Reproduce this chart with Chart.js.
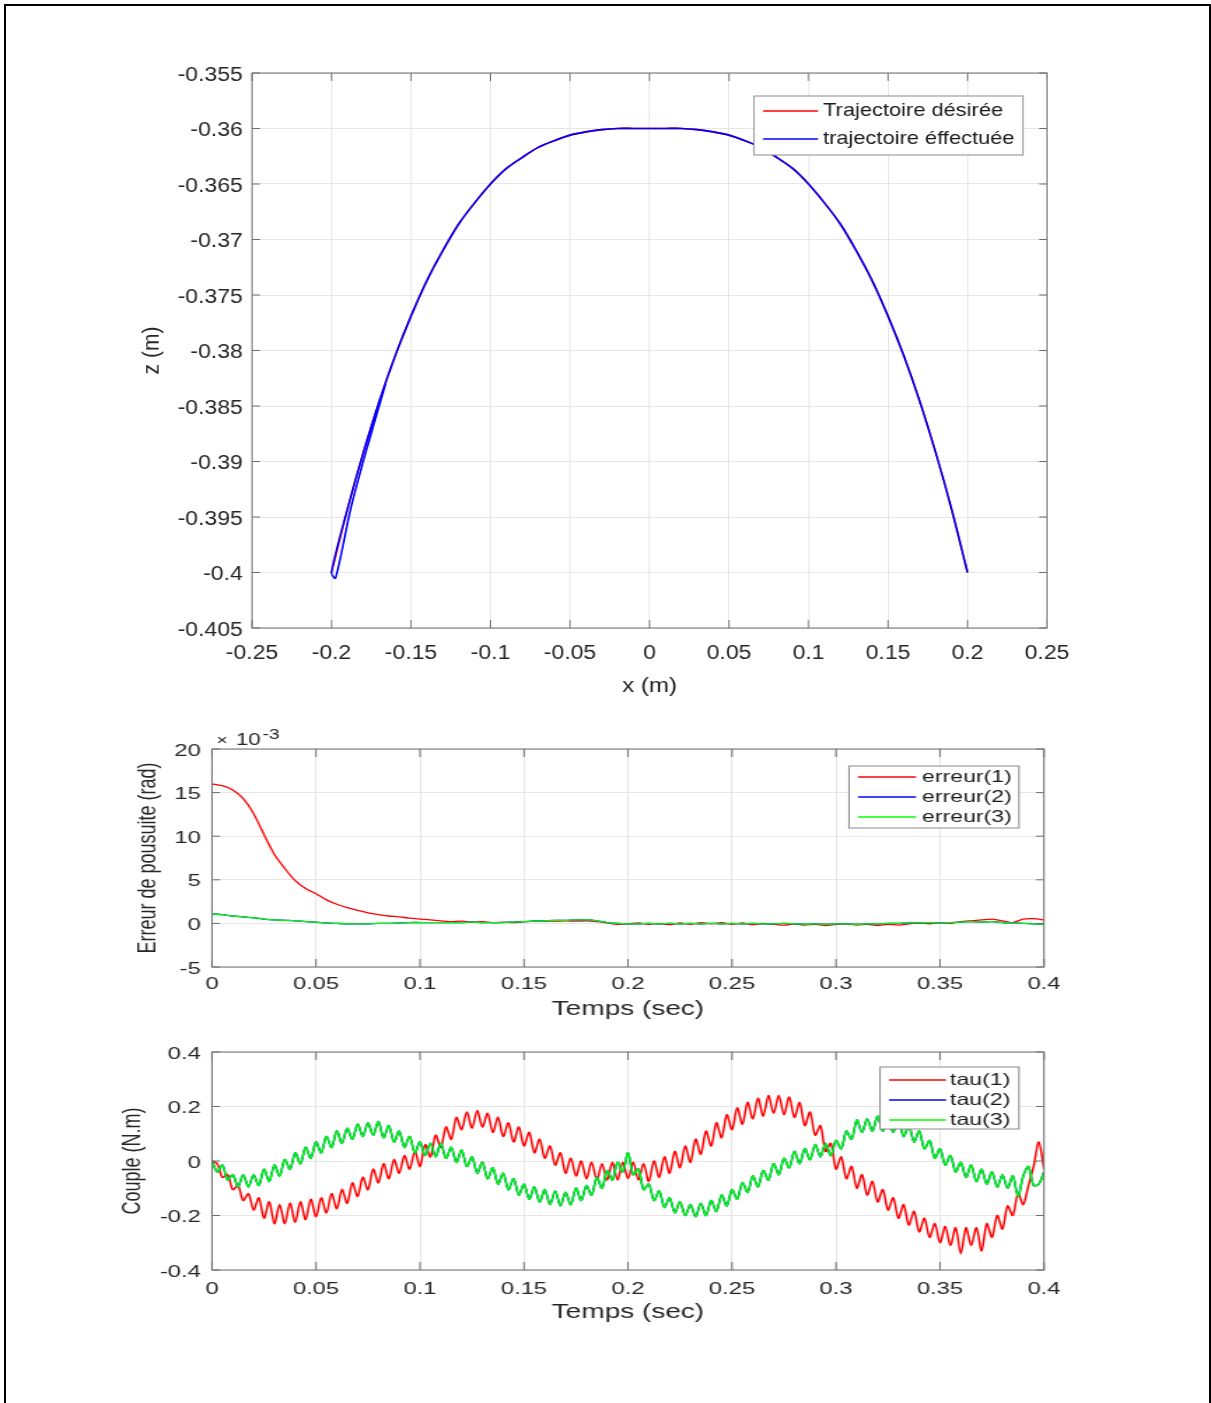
<!DOCTYPE html>
<html>
<head>
<meta charset="utf-8">
<script src="https://cdn.jsdelivr.net/npm/chart.js@4.4.0/dist/chart.umd.min.js"></script>
<style>
  html, body { margin: 0; padding: 0; background: #fff; }
  body { width: 1211px; height: 1403px; position: relative; overflow: hidden; }
  #frame { position: absolute; left: 4px; top: 4px; width: 1203px; height: 1420px; border: 2px solid #000; }
  canvas { position: absolute; left: 0; transform-origin: 0 0; }
</style>
</head>
<body>
<div id="frame"></div>
<canvas id="trajChart"></canvas>
<canvas id="errChart"></canvas>
<canvas id="tauChart"></canvas>
<script>
// ---- trajectory (metres) ----
const trajX = [-0.2, -0.19, -0.18, -0.17, -0.16, -0.15, -0.14, -0.13, -0.12, -0.11, -0.1,
  -0.09, -0.08, -0.07, -0.06, -0.05, -0.04, -0.03, -0.02, -0.01, 0,
  0.01, 0.02, 0.03, 0.04, 0.05, 0.06, 0.07, 0.08, 0.09, 0.1,
  0.11, 0.12, 0.13, 0.14, 0.15, 0.16, 0.17, 0.18, 0.19, 0.2];
const trajZ = [-0.4, -0.3943, -0.3892, -0.3846, -0.3805, -0.3769, -0.3737, -0.371, -0.3686, -0.3667, -0.365,
  -0.3636, -0.3626, -0.3617, -0.3611, -0.3606, -0.3603, -0.3601, -0.36, -0.36, -0.36,
  -0.36, -0.36, -0.3601, -0.3603, -0.3606, -0.3611, -0.3617, -0.3626, -0.3636, -0.365,
  -0.3667, -0.3686, -0.371, -0.3737, -0.3769, -0.3805, -0.3846, -0.3892, -0.3943, -0.4];
// second strand at the start of the tracked path
const startX = [-0.166, -0.1785, -0.188, -0.1975];
const startZ = [-0.383, -0.3892, -0.3943, -0.4005];
const trajXTicks = [-0.25, -0.2, -0.15, -0.1, -0.05, 0, 0.05, 0.1, 0.15, 0.2, 0.25];
const trajZTicks = [-0.405, -0.4, -0.395, -0.39, -0.385, -0.38, -0.375, -0.37, -0.365, -0.36, -0.355];

// ---- tracking errors (x 1e-3 rad), one sample every 5 ms ----
const errStep = 0.005;
const err1 = [16.0, 15.8, 15.3, 14.3, 12.6, 10.2, 7.9, 6.3, 4.9, 4.0,
  3.4, 2.7, 2.2, 1.8, 1.5, 1.2, 1.0, 0.85, 0.75, 0.6,
  0.5, 0.4, 0.3, 0.2, 0.25, 0.15, 0.2, 0.1, 0.15, 0.1,
  0.2, 0.25, 0.3, 0.25, 0.3, 0.25, 0.3, 0.2, 0.05, -0.1,
  -0.05, 0.05, -0.1, 0.0, -0.15, 0.05, -0.1, 0.1, -0.05, 0.1,
  -0.1, 0.05, -0.15, 0.0, -0.1, -0.2, -0.05, -0.2, -0.1, -0.25,
  -0.1, -0.05, -0.2, -0.1, -0.25, -0.1, -0.2, -0.05, 0.05, -0.05,
  0.1, 0.0, 0.2, 0.3, 0.4, 0.5, 0.3, 0.1, 0.5, 0.55, 0.4];
const err3 = [1.1, 1.0, 0.85, 0.75, 0.65, 0.5, 0.4, 0.35, 0.3, 0.2,
  0.15, 0.05, 0.0, -0.05, -0.05, -0.05, 0.0, 0.0, 0.05, 0.1,
  0.1, 0.1, 0.1, 0.1, 0.1, 0.15, 0.1, 0.1, 0.1, 0.15,
  0.2, 0.25, 0.3, 0.35, 0.35, 0.4, 0.4, 0.3, 0.1, 0.0,
  -0.05, -0.05, 0.0, -0.05, 0.0, -0.05, 0.0, -0.05, 0.0, -0.05,
  0.0, -0.05, 0.0, -0.05, -0.05, 0.0, -0.05, -0.1, -0.05, -0.1,
  -0.05, -0.05, -0.1, -0.05, -0.05, 0.0, 0.0, 0.05, 0.05, 0.1,
  0.05, 0.1, 0.15, 0.2, 0.15, 0.2, 0.1, 0.05, 0.0, -0.05, -0.1];
const err2 = err3; // hidden under erreur(3)
const errYTicks = [-5, 0, 5, 10, 15, 20];
const timeTicks = [0, 0.05, 0.1, 0.15, 0.2, 0.25, 0.3, 0.35, 0.4];

// ---- joint torques (N.m), one sample every 2.5 ms ----
const tauStep = 0.0025;
const tau1 = [0.00, -0.01, -0.06, -0.05, -0.105, -0.09, -0.145, -0.12, -0.18,
  -0.135, -0.21, -0.15, -0.23, -0.16, -0.23, -0.155, -0.225,
  -0.15, -0.215, -0.14, -0.205, -0.135, -0.19, -0.12, -0.175,
  -0.105, -0.155, -0.08, -0.13, -0.06, -0.105, -0.03, -0.08,
  -0.01, -0.065, 0.005, -0.045, 0.02, -0.03, 0.035, -0.02,
  0.06, 0.015, 0.095, 0.05, 0.125, 0.08, 0.16, 0.115,
  0.18, 0.12, 0.185, 0.125, 0.175, 0.105, 0.16, 0.09,
  0.14, 0.07, 0.125, 0.055, 0.105, 0.03, 0.08, 0.01,
  0.055, -0.015, 0.03, -0.045, 0.01, -0.055, 0.0, -0.065,
  -0.005, -0.07, -0.01, -0.07, -0.005, -0.07, -0.005, -0.065,
  -0.005, -0.07, -0.01, -0.075, 0.0, -0.06, 0.015, -0.045,
  0.035, -0.025, 0.055, -0.005, 0.08, 0.025, 0.11, 0.055,
  0.14, 0.085, 0.17, 0.115, 0.195, 0.135, 0.215, 0.155,
  0.23, 0.165, 0.24, 0.175, 0.24, 0.17, 0.235, 0.16,
  0.215, 0.13, 0.18, 0.095, 0.13, 0.035, 0.065, -0.03,
  0.015, -0.065, -0.02, -0.1, -0.05, -0.125, -0.075, -0.15,
  -0.105, -0.18, -0.135, -0.21, -0.16, -0.235, -0.185, -0.26,
  -0.21, -0.28, -0.23, -0.3, -0.24, -0.31, -0.245, -0.34,
  -0.245, -0.31, -0.245, -0.33, -0.23, -0.28, -0.2, -0.25,
  -0.165, -0.2, -0.12, -0.16, -0.09, -0.02, 0.07, -0.03];
const tau3 = [0.0, -0.04, -0.015, -0.07, -0.05, -0.095, -0.05, -0.095, -0.05,
  -0.09, -0.03, -0.075, -0.015, -0.055, 0.005, -0.03, 0.03,
  -0.01, 0.05, 0.01, 0.07, 0.03, 0.09, 0.05, 0.11,
  0.065, 0.12, 0.08, 0.135, 0.09, 0.14, 0.095, 0.145,
  0.085, 0.13, 0.07, 0.11, 0.05, 0.09, 0.03, 0.07,
  0.02, 0.065, 0.015, 0.065, 0.01, 0.05, -0.005, 0.04,
  -0.02, 0.015, -0.045, -0.005, -0.065, -0.025, -0.085, -0.045,
  -0.105, -0.065, -0.125, -0.085, -0.14, -0.095, -0.15, -0.105,
  -0.16, -0.11, -0.165, -0.115, -0.16, -0.1, -0.145, -0.09,
  -0.125, -0.06, -0.1, -0.035, -0.07, -0.005, -0.04, 0.03,
  -0.05, -0.03, -0.105, -0.085, -0.145, -0.11, -0.17, -0.135,
  -0.19, -0.15, -0.2, -0.16, -0.205, -0.155, -0.2, -0.145,
  -0.185, -0.125, -0.165, -0.105, -0.14, -0.08, -0.115, -0.055,
  -0.095, -0.035, -0.07, -0.01, -0.05, 0.01, -0.025, 0.035,
  -0.01, 0.045, 0.005, 0.06, 0.015, 0.065, 0.02, 0.075,
  0.045, 0.11, 0.08, 0.15, 0.105, 0.155, 0.11, 0.165,
  0.11, 0.155, 0.105, 0.15, 0.09, 0.13, 0.07, 0.11,
  0.045, 0.075, 0.01, 0.045, -0.015, 0.02, -0.04, -0.005,
  -0.06, -0.015, -0.075, -0.03, -0.085, -0.04, -0.095, -0.05,
  -0.1, -0.055, -0.13, -0.055, -0.02, -0.09, -0.085, -0.04];
const tau2 = tau3; // hidden under tau(3)
const tauYTicks = [-0.4, -0.2, 0, 0.2, 0.4];

const RED = '#ff0000', BLUE = '#0000ff', GREEN = '#00ff00';
const TXT = '#262626', GRID = '#e6e6e6', AXIS = '#6e6e6e';
const FONT = "'Liberation Sans', Arial, Helvetica, sans-serif";
const PAGE_W = 1211;

Chart.defaults.font.family = FONT;
Chart.defaults.color = TXT;

const fmt = v => String(+Number(v).toFixed(4));
const pts = (xs, ys) => xs.map((x, i) => ({ x, y: ys[i] }));
const timed = (ys, step) => ys.map((y, i) => ({ x: i * step, y }));

// MATLAB-like box, inward ticks, legend inside the axes, axis exponent
const matlabAxes = {
  id: 'matlabAxes',
  afterDraw(chart, args, o) {
    const { ctx, chartArea: a } = chart;
    const xs = chart.scales.x, ys = chart.scales.y;
    const s = o.stretch;
    ctx.save();
    ctx.strokeStyle = AXIS;
    ctx.lineWidth = 1;
    ctx.strokeRect(a.left, a.top, a.width, a.height);
    ctx.beginPath();
    xs.ticks.forEach(t => {
      const px = xs.getPixelForValue(t.value);
      ctx.moveTo(px, a.bottom); ctx.lineTo(px, a.bottom - 8);
      ctx.moveTo(px, a.top); ctx.lineTo(px, a.top + 8);
    });
    ys.ticks.forEach(t => {
      const py = ys.getPixelForValue(t.value);
      ctx.moveTo(a.left, py); ctx.lineTo(a.left + 8 / s, py);
      ctx.moveTo(a.right, py); ctx.lineTo(a.right - 8 / s, py);
    });
    ctx.stroke();

    const L = o.legend;
    const bx = a.right - (L.right + L.width) / s, by = a.top + L.top;
    ctx.fillStyle = '#fff';
    ctx.fillRect(bx, by, L.width / s, L.height);
    ctx.strokeStyle = '#8a8a8a';
    ctx.strokeRect(bx, by, L.width / s, L.height);
    ctx.font = L.size + 'px ' + FONT;
    ctx.textBaseline = 'middle';
    ctx.textAlign = 'left';
    chart.data.datasets.forEach((ds, i) => {
      const ry = by + L.first + i * L.step;
      ctx.strokeStyle = ds.borderColor;
      ctx.lineWidth = 1.3;
      ctx.beginPath();
      ctx.moveTo(bx + L.lineX / s, ry);
      ctx.lineTo(bx + (L.lineX + L.lineLen) / s, ry);
      ctx.stroke();
      ctx.fillStyle = '#1a1a1a';
      ctx.fillText(ds.label, bx + L.textX / s, ry);
    });

    if (o.exponent) {
      ctx.fillStyle = TXT;
      ctx.font = '14px ' + FONT;
      ctx.fillText('\u00d7', a.left + 3, a.top - 8);
      ctx.font = '16px ' + FONT;
      ctx.fillText('10', a.left + 17, a.top - 8);
      ctx.font = '14px ' + FONT;
      ctx.fillText(o.exponent, a.left + 36, a.top - 14);
    }
    ctx.restore();
  }
};

function place(id, box) {
  const cv = document.getElementById(id);
  const w = Math.round(PAGE_W / box.s);
  cv.width = w;
  cv.height = box.height;
  cv.style.width = w + 'px';
  cv.style.height = box.height + 'px';
  cv.style.top = box.top + 'px';
  cv.style.transform = 'scaleX(' + box.s + ')';
  return { cv, w };
}

function makeChart(id, box, spec) {
  const { cv, w } = place(id, box);
  return new Chart(cv, {
    type: 'line',
    data: { datasets: spec.datasets },
    options: {
      responsive: false,
      maintainAspectRatio: false,
      animation: false,
      events: [],
      layout: { padding: { left: 0, top: box.areaTop - box.top, right: w - box.right / box.s, bottom: 0 } },
      elements: { point: { radius: 0 }, line: { tension: spec.tension || 0 } },
      plugins: {
        legend: { display: false },
        tooltip: { enabled: false },
        matlabAxes: { stretch: box.s, legend: spec.legend, exponent: spec.exponent }
      },
      scales: {
        x: {
          type: 'linear',
          min: spec.xTicks[0],
          max: spec.xTicks[spec.xTicks.length - 1],
          afterBuildTicks: sc => { sc.ticks = spec.xTicks.map(v => ({ value: v })); },
          afterFit: sc => { sc.height = box.top + box.height - box.areaBottom; },
          grid: { color: GRID, drawTicks: false },
          border: { display: false },
          ticks: { padding: spec.xPad, autoSkip: false, maxRotation: 0, color: TXT, font: { size: spec.tick }, callback: fmt },
          title: { display: true, text: spec.xTitle, color: TXT, font: { size: spec.title }, padding: { top: 0, bottom: spec.xTitlePad } }
        },
        y: {
          type: 'linear',
          min: spec.yTicks[0],
          max: spec.yTicks[spec.yTicks.length - 1],
          afterBuildTicks: sc => { sc.ticks = spec.yTicks.map(v => ({ value: v })); },
          afterFit: sc => { sc.width = box.left / box.s; },
          grid: { color: GRID, drawTicks: false },
          border: { display: false },
          ticks: { padding: spec.yPad, labelOffset: 2, autoSkip: false, color: TXT, font: { size: spec.tick }, callback: fmt },
          title: { display: true, text: spec.yTitle, color: TXT, font: { size: spec.yTitleSize || spec.title }, padding: { top: spec.yTitlePad, bottom: 0 } }
        }
      }
    },
    plugins: [matlabAxes]
  });
}

// Trajectory in the (x, z) plane
const s1 = 1.15;
makeChart('trajChart',
  { top: 0, height: 710, s: s1, left: 252, right: 1047, areaTop: 73, areaBottom: 628 },
  {
    datasets: [
      { label: 'Trajectoire désirée', data: pts(trajX, trajZ), borderColor: RED, borderWidth: 1.7, order: 1 },
      { label: 'trajectoire éffectuée', data: pts(startX.concat(trajX), startZ.concat(trajZ)), borderColor: BLUE, borderWidth: 1.7, order: 0 }
    ],
    tension: 0.3,
    xTicks: trajXTicks, yTicks: trajZTicks,
    xTitle: 'x (m)', yTitle: 'z (m)',
    tick: 20, title: 21,
    xPad: 13, xTitlePad: 11, yPad: 8, yTitlePad: 152 / s1 - 12.6,
    legend: { right: 24, width: 269, top: 23, height: 59, first: 15, step: 28, lineX: 9, lineLen: 55, textX: 69, size: 19 }
  });

// Tracking errors
const s2 = 1.4;
makeChart('errChart',
  { top: 715, height: 315, s: s2, left: 212, right: 1044, areaTop: 749, areaBottom: 967 },
  {
    datasets: [
      { label: 'erreur(1)', data: timed(err1, errStep), borderColor: RED, borderWidth: 1.3, order: 2 },
      { label: 'erreur(2)', data: timed(err2, errStep), borderColor: BLUE, borderWidth: 1.3, order: 1 },
      { label: 'erreur(3)', data: timed(err3, errStep), borderColor: GREEN, borderWidth: 1.3, order: 0 }
    ],
    tension: 0.2,
    xTicks: timeTicks, yTicks: errYTicks,
    xTitle: 'Temps (sec)', yTitle: 'Erreur de pousuite (rad)',
    tick: 17, title: 20, yTitleSize: 18,
    xPad: 7, xTitlePad: 9, yPad: 8, yTitlePad: 149 / s2 - 10.8,
    exponent: '-3',
    legend: { right: 25, width: 170, top: 17, height: 62, first: 11, step: 20, lineX: 9, lineLen: 58, textX: 73, size: 16.5 }
  });

// Joint torques
makeChart('tauChart',
  { top: 1030, height: 303, s: s2, left: 212, right: 1044, areaTop: 1052, areaBottom: 1270 },
  {
    datasets: [
      { label: 'tau(1)', data: timed(tau1, tauStep), borderColor: RED, borderWidth: 1.5, order: 2 },
      { label: 'tau(2)', data: timed(tau2, tauStep), borderColor: BLUE, borderWidth: 1.5, order: 1 },
      { label: 'tau(3)', data: timed(tau3, tauStep), borderColor: GREEN, borderWidth: 1.5, order: 0 }
    ],
    tension: 0.3,
    xTicks: timeTicks, yTicks: tauYTicks,
    xTitle: 'Temps (sec)', yTitle: 'Couple (N.m)',
    tick: 17, title: 20, yTitleSize: 18,
    xPad: 9, xTitlePad: 9, yPad: 8, yTitlePad: 133 / s2 - 10.8,
    legend: { right: 25, width: 139, top: 15, height: 62, first: 13, step: 20, lineX: 9, lineLen: 57, textX: 70, size: 16.5 }
  });
</script>
</body>
</html>
